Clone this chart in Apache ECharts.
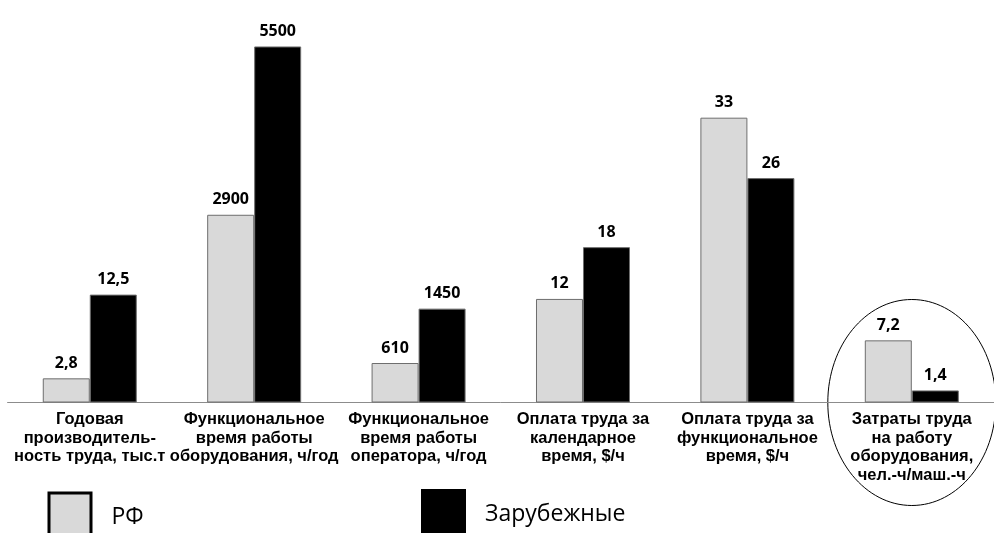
<!DOCTYPE html>
<html>
<head>
<meta charset="utf-8">
<script src="https://cdn.jsdelivr.net/npm/echarts@6/dist/echarts.min.js"></script>
<style>
  html, body { margin: 0; padding: 0; background: #fff; }
  #chart { width: 994px; height: 533px; }
</style>
</head>
<body>
<div id="chart"></div>
<script>
// Indicators compared between Russian and foreign enterprises
const categories = [
  'Годовая\nпроизводитель-\nность труда, тыс.т',
  'Функциональное\nвремя работы\nоборудования, ч/год',
  'Функциональное\nвремя работы\nоператора, ч/год',
  'Оплата труда за\nкалендарное\nвремя, $/ч',
  'Оплата труда за\nфункциональное\nвремя, $/ч',
  'Затраты труда\nна работу\nоборудования,\nчел.-ч/маш.-ч'
];
const seriesNames = ['РФ', 'Зарубежные'];
const rfValues = [2.8, 2900, 610, 12, 33, 7.2];
const foreignValues = [12.5, 5500, 1450, 18, 26, 1.4];
// Hour-based indicators are plotted against their own (hidden) scale
const onHourScale = [false, true, true, false, false, false];

const pick = (values, hours) => values.map((v, i) => (onHourScale[i] === hours ? v : null));

const chart = echarts.init(document.getElementById('chart'));

const fmt = p => String(p.value).replace('.', ',');
const barLabel = {
  show: true,
  position: 'top',
  distance: 7,
  fontFamily: 'Open Sans',
  fontWeight: 'bold',
  fontSize: 16,
  color: '#000',
  formatter: fmt
};
const rfStyle = { color: '#d9d9d9', borderColor: '#6e6e6e', borderWidth: 1 };
const foreignStyle = { color: '#000000', borderColor: '#6e6e6e', borderWidth: 1 };

function bar(name, xi, data, style) {
  return {
    type: 'bar', name: name, xAxisIndex: xi, yAxisIndex: xi,
    data: data, barWidth: 47, barGap: '0%',
    itemStyle: style, label: barLabel, silent: true
  };
}

function legendText(padLeft) {
  return {
    rich: {
      t: { fontFamily: 'Open Sans', fontSize: 23, color: '#000', padding: [6, 0, 0, padLeft] }
    }
  };
}

chart.setOption({
  animation: false,
  grid: { left: 7.57, top: 14.1, width: 991.56, height: 388.4 },
  xAxis: [
    {
      type: 'category', data: categories, position: 'bottom',
      axisLine: { lineStyle: { color: '#8c8c8c', width: 1 } },
      axisTick: { length: 4, lineStyle: { color: '#8c8c8c' } },
      axisLabel: {
        interval: 0, margin: 8, color: '#000',
        fontFamily: 'Liberation Sans', fontWeight: 'bold',
        fontSize: 16.5, lineHeight: 18.5
      }
    },
    { type: 'category', data: categories, position: 'top', show: false }
  ],
  yAxis: [
    { type: 'value', min: 0, max: 45, show: false },
    { type: 'value', min: 0, max: 6000, show: false }
  ],
  legend: [
    {
      data: [{ name: seriesNames[0], itemStyle: { color: '#d9d9d9', borderColor: '#000', borderWidth: 3 } }],
      left: 47.5, top: 491.5, padding: 0, itemWidth: 42, itemHeight: 42, icon: 'rect',
      selectedMode: false, formatter: '{t|{name}}', textStyle: legendText(15.5)
    },
    {
      data: [{ name: seriesNames[1], itemStyle: { color: '#000', borderWidth: 0 } }],
      left: 421, top: 489, padding: 0, itemWidth: 45, itemHeight: 45, icon: 'rect',
      selectedMode: false, formatter: '{t|{name}}', textStyle: legendText(14)
    }
  ],
  series: [
    bar(seriesNames[0], 0, pick(rfValues, false), rfStyle),
    bar(seriesNames[1], 0, pick(foreignValues, false), foreignStyle),
    bar(seriesNames[0], 1, pick(rfValues, true), rfStyle),
    bar(seriesNames[1], 1, pick(foreignValues, true), foreignStyle)
  ]
});

// Highlight the last indicator with an ellipse around its group
const lastCat = categories[categories.length - 1];
const cx = chart.convertToPixel({ xAxisIndex: 0 }, lastCat);
const cy = chart.convertToPixel({ yAxisIndex: 0 }, 0);
chart.setOption({
  graphic: [{
    type: 'ellipse', silent: true,
    shape: { cx: cx, cy: cy, rx: 84, ry: 103 },
    style: { fill: null, stroke: '#000', lineWidth: 1 }
  }]
});
</script>
</body>
</html>
